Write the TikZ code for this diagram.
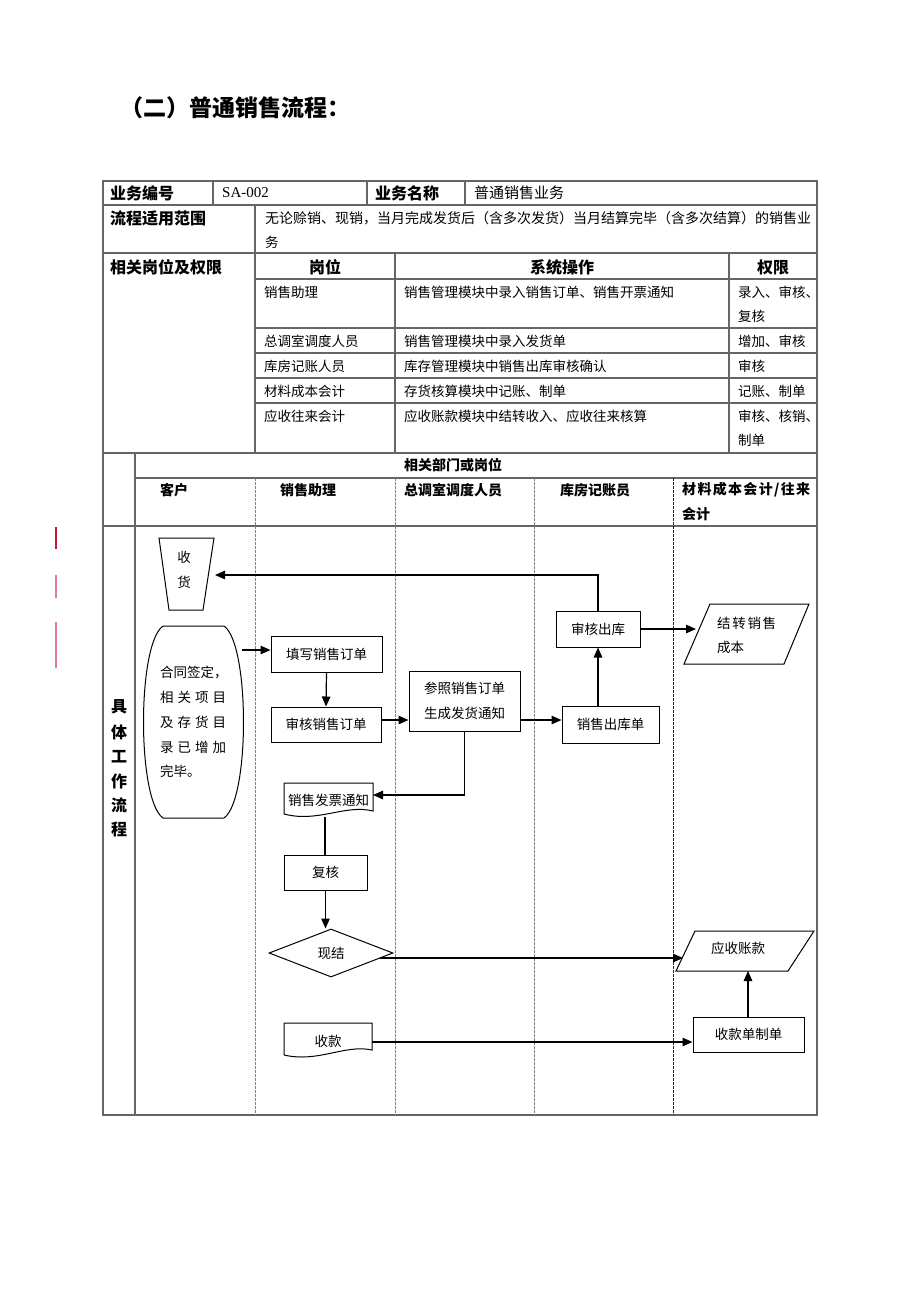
\documentclass[tikz,border=0pt]{standalone}
\usepackage{fontspec}
\setmainfont{Noto Sans CJK SC}
\newfontfamily\latserif{Liberation Serif}
\usetikzlibrary{arrows.meta,shapes.geometric}
\definecolor{redmark}{HTML}{C8153A}
\definecolor{pinkmark}{HTML}{E07A95}
\newcommand\fsz[1]{\fontsize{#1}{#1}\selectfont}
\begin{document}
\begin{tikzpicture}[x=1pt,y=-1pt,
  tline/.style={draw=black!60, line width=1.2pt},
  lanesep/.style={draw=black!50, dash pattern=on 2.5pt off 1.5pt, line width=0.8pt},
  lanesepk/.style={draw=black!85, dash pattern=on 2.5pt off 1.5pt, line width=0.6pt},
  txt/.style={anchor=west, inner sep=0pt, font=\fsz{13.5}},
  hdr/.style={anchor=west, inner sep=0pt, font=\fsz{16}\bfseries},
  shdr/.style={anchor=west, inner sep=0pt, font=\fsz{14}\bfseries},
  flowbox/.style={draw, line width=1pt, inner sep=0pt, font=\fsz{13.5}},
  shp/.style={draw, line width=1pt},
  ftxt/.style={inner sep=0pt, font=\fsz{13.5}},
  arr/.style={-{Triangle[length=10pt,width=8.5pt]}, line width=1.2pt},
  ln/.style={line width=1.2pt}]
\useasboundingbox (0,0) rectangle (920,1302);
\fill[white] (0,0) rectangle (920,1302);

% title
\node[anchor=west, inner sep=0pt, font=\fsz{23}\bfseries] (title) at (120,108) {（二）普通销售流程：};

% red marks
\draw[redmark, line width=1.6pt] (56,527) -- (56,549);
\draw[pinkmark, line width=1.4pt] (56,575) -- (56,598);
\draw[pinkmark, line width=1.4pt] (56,622) -- (56,668);

% table frame
\draw[tline] (103,181) rectangle (817,1115);
\foreach \yy in {205,253,453,526} \draw[tline] (103,\yy) -- (817,\yy);
\foreach \yy in {279,328,353,378,403} \draw[tline] (255,\yy) -- (817,\yy);
\draw[tline] (135,478) -- (817,478);
\foreach \xx in {213,367,465} \draw[tline] (\xx,181) -- (\xx,205);
\draw[tline] (255,205) -- (255,453);
\draw[tline] (395,253) -- (395,453);
\draw[tline] (729,253) -- (729,453);
\draw[tline] (135,453) -- (135,1115);
\foreach \xx in {255,395,534} \draw[lanesep] (\xx,478) -- (\xx,1115);
\draw[lanesepk] (673,478) -- (673,1115);

% row 1
\node[hdr] (h1) at (110,193) {业务编号};
\node[anchor=west, inner sep=0pt, font=\latserif\fsz{15}] (h2) at (222,193) {SA-002};
\node[hdr] (h3) at (375,193) {业务名称};
\node[anchor=west, inner sep=0pt, font=\fsz{15}] (h4) at (474,193) {普通销售业务};
% row 2
\node[hdr] (r2a) at (110,218) {流程适用范围};
\node[anchor=west, inner sep=0pt, font=\fsz{14}] (r2b) at (265,218) {无论赊销、现销，当月完成发货后（含多次发货）当月结算完毕（含多次结算）的销售业};
\node[txt] (r2c) at (265,242) {务};
% row 3
\node[hdr] (r3a) at (110,267) {相关岗位及权限};
\node[hdr, anchor=center] (r3b) at (325,267) {岗位};
\node[hdr, anchor=center] (r3c) at (562,267) {系统操作};
\node[hdr, anchor=center] (r3d) at (773,267) {权限};
\node[txt] (p1) at (264,292) {销售助理};
\node[txt] (p2) at (264,341) {总调室调度人员};
\node[txt] (p3) at (264,366) {库房记账人员};
\node[txt] (p4) at (264,391) {材料成本会计};
\node[txt] (p5) at (264,416) {应收往来会计};
\node[txt] (o1) at (404,292) {销售管理模块中录入销售订单、销售开票通知};
\node[txt] (o2) at (404,341) {销售管理模块中录入发货单};
\node[txt] (o3) at (404,366) {库存管理模块中销售出库审核确认};
\node[txt] (o4) at (404,391) {存货核算模块中记账、制单};
\node[txt] (o5) at (404,416) {应收账款模块中结转收入、应收往来核算};
\node[txt] (q1) at (738,292) {录入、审核、};
\node[txt] (q1b) at (738,316) {复核};
\node[txt] (q2) at (738,341) {增加、审核};
\node[txt] (q3) at (738,366) {审核};
\node[txt] (q4) at (738,391) {记账、制单};
\node[txt] (q5) at (738,416) {审核、核销、};
\node[txt] (q5b) at (738,440) {制单};

% lanes header
\node[shdr] (lh) at (404,465) {相关部门或岗位};
\node[shdr] (l1) at (160,490) {客户};
\node[shdr] (l2) at (280,490) {销售助理};
\node[shdr] (l3) at (404,490) {总调室调度人员};
\node[shdr] (l4) at (560,490) {库房记账员};
\node[shdr] (l5) at (682,490) {\makebox[128pt][s]{材\hfill 料\hfill 成\hfill 本\hfill 会\hfill 计\hfill /\hfill 往\hfill 来}};
\node[shdr] (l5b) at (682,514) {会计};

% vertical label
\foreach \ch/\yy [count=\i] in {具/707,体/732,工/757,作/781,流/805,程/829}
  \node[inner sep=0pt, font=\fsz{16}\bfseries] (v\i) at (119,\yy) {\ch};

% ---- flow ----
% receive goods (trapezoid)
\draw[shp] (159,538) -- (214,538) -- (203,610) -- (169,610) -- cycle;
\node[ftxt] (recv1) at (184,557) {收};
\node[ftxt] (recv2) at (184,582) {货};
\coordinate (recvR) at (215,575);

% contract shape
\draw[shp] (163,626) -- (224,626) .. controls (250,644) and (250,800) .. (224,818)
  -- (163,818) .. controls (137,800) and (137,644) .. (163,626) -- cycle;
\node[txt] (c1) at (160,672) {合同签定，};
\node[txt] (c2) at (160,697) {\makebox[66pt][s]{相\hfill 关\hfill 项\hfill 目}};
\node[txt] (c3) at (160,722) {\makebox[66pt][s]{及\hfill 存\hfill 货\hfill 目}};
\node[txt] (c4) at (160,747) {\makebox[66pt][s]{录\hfill 已\hfill 增\hfill 加}};
\node[txt] (c5) at (160,771) {完毕。};
\coordinate (contractE) at (242,650);

\node[flowbox, minimum width=111pt, minimum height=36pt] (fill) at (326.5,654) {填写销售订单};
\node[flowbox, minimum width=110pt, minimum height=35pt] (aud) at (326,724.5) {审核销售订单};
\node[flowbox, minimum width=111pt, minimum height=60pt, align=left, font=\fontsize{13.5}{25}\selectfont] (ref) at (464.5,701) {参照销售订单\\生成发货通知};
\node[flowbox, minimum width=97pt, minimum height=37pt] (out) at (610.5,724.5) {销售出库单};
\node[flowbox, minimum width=84pt, minimum height=36pt] (chk) at (598,629) {审核出库};

% cost parallelogram
\draw[shp] (710,604) -- (809,604) -- (784,664) -- (684,664) -- cycle;
\node[txt] (cost1) at (717,623) {\makebox[59pt][s]{结\hfill 转\hfill 销\hfill 售}};
\node[txt] (cost2) at (717,647) {成本};
\coordinate (costL) at (696,629);

% invoice document
\draw[shp] (284,783) -- (373,783) -- (373,811) .. controls (345,804) and (318,823) .. (284,814) -- cycle;
\node[ftxt] (inv) at (328.5,800) {销售发票通知};
\coordinate (invE) at (373,795);
\coordinate (invB) at (325,817);

\node[flowbox, minimum width=83pt, minimum height=35pt] (rev) at (325.5,872.5) {复核};
\node[diamond, draw, line width=1pt, inner sep=0pt, minimum width=124pt, minimum height=48pt, font=\fsz{13.5}] (cash) at (331,953) {现结};
\coordinate (cashE) at (380,958);

% receivable parallelogram
\draw[shp] (695,931) -- (814,931) -- (788,971) -- (676,971) -- cycle;
\node[ftxt] (ar) at (738,948) {应收账款};
\coordinate (arL) at (683,958);
\coordinate (arB) at (748,971);

% payment document
\draw[shp] (284,1023) -- (372,1023) -- (372,1050) .. controls (345,1044) and (318,1063) .. (284,1055) -- cycle;
\node[ftxt] (pay) at (328,1041) {收款};
\coordinate (payE) at (372,1042);

\node[flowbox, minimum width=111pt, minimum height=35pt] (bill) at (748.5,1034.5) {收款单制单};

% connectors
\draw[arr] (contractE) -- (contractE -| fill.west);
\draw[arr] (fill.south) -- (aud.north);
\coordinate (a1) at (381,720);
\draw[arr] (a1) -- (a1 -| ref.west);
\draw[arr] (a1 -| ref.east) -- (a1 -| out.west);
\draw[arr] (chk.south |- out.north) -- (chk.south);
\draw[arr] (chk.north) |- (recvR);
\draw[arr] (chk.east) -- (costL);
\draw[arr] (ref.south) |- (invE);
\draw[ln] (invB) -- (invB |- rev.north);
\draw[arr] (rev.south) -- (rev.south |- cash.north);
\draw[arr] (cashE) -- (arL);
\draw[arr] (bill.north -| arB) -- (arB);
\draw[arr] (payE) -- (payE -| bill.west);
\end{tikzpicture}
\end{document}
